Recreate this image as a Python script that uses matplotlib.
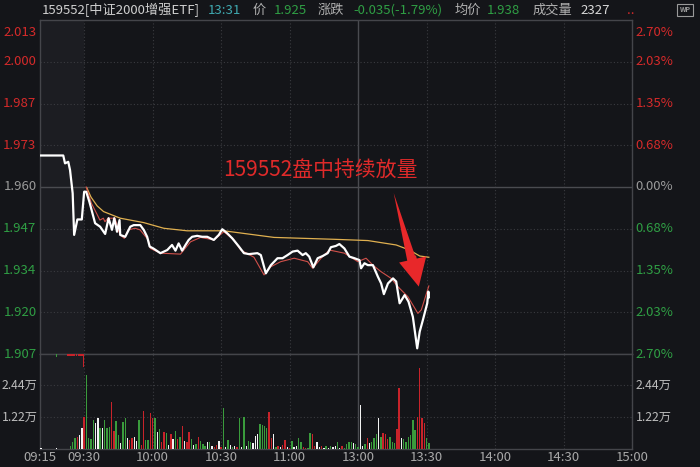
import numpy as np
import matplotlib
matplotlib.use("Agg")
from matplotlib import pyplot as plt

plt.rcParams['font.family'] = ['Noto Sans CJK SC', 'DejaVu Sans']

# ---- data ----
prev_close = 1.960
# call auction 09:15-09:30, minutes after 09:15
pre_t = [0.3, 7.9, 8.5, 9.6, 10.2, 11.1, 11.6, 12.7, 14.2]
pre_p = [1.970, 1.970, 1.9675, 1.968, 1.9654, 1.958, 1.9448, 1.9497, 1.9497]

# trading minutes after 09:30 (11:30 and 13:00 share minute 120)
px_m = [0, 0.9, 2.3, 4.8, 7.0, 9.2, 10.7, 12.2, 13.2, 14.4, 15.5, 15.8, 18.0, 20.2, 21.7,
        24.6, 26.1, 27.6, 28.7, 30.3, 33.4, 36.4, 38.5, 40.0, 41.4, 42.9, 44.4, 45.8,
        47.3, 49.5, 51.7, 53.9, 56.8, 59.0, 60.5, 62.7, 64.9, 67.8, 70.0, 72.2, 75.9,
        77.4, 79.6, 81.8, 84.7, 86.9, 89.1, 91.3, 93.5, 95.7, 97.1, 98.6, 100.4, 102.3,
        104.5, 106.7, 108.1, 110.3, 111.8, 114.0, 116.2, 118.4, 120.6, 121.3, 122.8,
        124.3, 126.5, 128.7, 130.1, 131.3, 133.1, 135.3, 136.7, 138.2, 140.4, 142.1,
        144.0, 145.9, 147.0, 148.4, 150.3, 150.8, 151.0]
price = [1.9585, 1.9585, 1.9553, 1.9485, 1.9474, 1.9451, 1.9501, 1.9464, 1.9501, 1.9458,
         1.9495, 1.9448, 1.9442, 1.9474, 1.9479, 1.9479, 1.9464, 1.9442, 1.9411, 1.9405,
         1.9390, 1.9400, 1.9416, 1.9398, 1.9421, 1.9398, 1.9416, 1.9432, 1.9442, 1.9445,
         1.9442, 1.9442, 1.9432, 1.9448, 1.9466, 1.9453, 1.9437, 1.9411, 1.9390, 1.9387,
         1.9390, 1.9384, 1.9326, 1.9352, 1.9374, 1.9374, 1.9384, 1.9395, 1.9398, 1.9384,
         1.9390, 1.9379, 1.9345, 1.9374, 1.9381, 1.9390, 1.9409, 1.9413, 1.9419, 1.9405,
         1.9379, 1.9374, 1.9368, 1.9342, 1.9358, 1.9352, 1.9352, 1.9315, 1.9294, 1.9260,
         1.9294, 1.9310, 1.9300, 1.9231, 1.9257, 1.9236, 1.9188, 1.9088, 1.9141, 1.9178,
         1.9231, 1.9268, 1.9250]

red_m = [0.9, 3.2, 5.4, 6.9, 8.4, 9.1, 10.5, 13.5, 15.7, 17.6, 19.3, 22.3, 24.5, 28.1, 29.0,
         33.4, 42.2, 46.6, 51.0, 56.8, 61.2, 65.6, 68.6, 74.4, 78.8, 81.8, 86.1, 92.0, 97.9,
         100.1, 103.8, 107.4, 114.0, 119.9, 123.5, 126.5, 130.1, 134.5, 137.4, 141.8,
         146.2, 147.7, 151.0]
red_p = [1.9600, 1.9548, 1.9517, 1.9495, 1.9501, 1.9490, 1.9501, 1.9501, 1.9448, 1.9437,
         1.9464, 1.9469, 1.9464, 1.9432, 1.9405, 1.9390, 1.9387, 1.9426, 1.9440, 1.9432,
         1.9458, 1.9432, 1.9400, 1.9377, 1.9321, 1.9347, 1.9363, 1.9374, 1.9363, 1.9342,
         1.9374, 1.9400, 1.9390, 1.9363, 1.9374, 1.9352, 1.9331, 1.9310, 1.9284, 1.9252,
         1.9199, 1.9210, 1.9286]

avg_m = [1.2, 3.0, 5.7, 8.5, 15.8, 26.1, 34.9, 45.1, 61.2, 83.2, 109.6, 124.3, 136.7, 142.5,
         147.0, 151.0]
avg_p = [1.9597, 1.9568, 1.9540, 1.9522, 1.9501, 1.9487, 1.9469, 1.9461, 1.9461, 1.9440,
         1.9434, 1.9430, 1.9416, 1.9400, 1.9381, 1.9377]

# volume in 万, one bar per minute; r = up, g = down, w = flat
vol_first = -6
vol = [0.13, 0.28, 0.43, 0.47, 0.53, 0.79, 1.23,
       2.82, 0.43, 0.38, 1.11, 0.98, 1.19, 0.79, 0.79, 1.11, 0.79, 0.85, 1.78, 0.69, 1.07,
       0.53, 0.22, 1.04, 1.19, 0.43, 0.34, 0.43, 0.47, 0.31, 1.11, 0.15, 1.45, 0.34, 0.34,
       1.36, 1.19, 1.19, 0.66, 0.76, 0.28, 0.64, 0.60, 0.15, 0.56, 0.38, 0.69, 0.38, 0.47,
       0.89, 0.31, 0.28, 0.66, 0.38, 0.15, 0.18, 0.47, 0.31, 0.18, 0.13, 0.25, 0.28, 0.13,
       0.09, 0.15, 0.31, 0.09, 1.55, 0.09, 0.34, 0.15, 0.09, 0.13, 0.09, 1.17, 0.09, 1.23,
       0.13, 0.31,
       0.28, 0.22, 0.51, 0.56, 0.94, 0.92, 0.89, 0.81, 1.42, 0.41, 0.56, 0.09, 0.13, 0.09,
       0.15, 0.34, 0.09, 0.05, 0.31, 0.09, 0.13, 0.43, 0.25, 0.09, 0.05, 0.03, 0.60, 0.56,
       0.13, 0.28, 0.09, 0.13, 0.05, 0.11, 0.05, 0.13, 0.09, 0.13, 0.25, 0.05, 0.13, 0.05,
       0.18, 0.25, 0.28, 0.22, 0.18, 0.09,
       1.68, 0.13, 0.18, 0.43, 0.22, 0.25, 0.41, 0.56, 1.19, 0.47, 0.62, 0.56, 0.38, 0.47,
       0.28, 0.22, 0.76, 2.34, 0.43, 0.38, 0.25, 0.47, 0.53, 1.11, 0.72, 1.23, 3.10, 1.17,
       0.98, 0.43, 0.22]
vol_col = ("gggrwwr"
           "ggggwwgwgggrrggwggwrrwwgrrggrrgwgrrgwrwgrgrwrrgwgrgggwgwrrwrgwgwgwrgwgwg"
           "gwwwggggrrwgrwrrwrgwwggrrggrrwwrwgwgwwgwrggggwg"
           "gwwgrwgggwgrrrgggrrwggggggrrrrg")
# auction small marks
auc_t = [0.3, 5.5]
auc_v = [0.05, 0.05]
hang_t = [5.5, 9.5, 10.2, 10.9, 11.6, 12.3, 13.0, 13.6, 14.3, 14.7]
hang_v = [0.10, 0.08, 0.08, 0.08, 0.08, 0.08, 0.08, 0.08, 0.08, 0.48]
hang_c = "grrrrrrrrr"

price_lbl = ["2.013", "2.000", "1.987", "1.973", "1.960", "1.947", "1.934", "1.920", "1.907"]
pct_lbl = ["2.70%", "2.03%", "1.35%", "0.68%", "0.00%", "0.68%", "1.35%", "2.03%", "2.70%"]
time_lbl = ["09:15", "09:30", "10:00", "10:30", "11:00", "13:00", "13:30", "14:00", "14:30", "15:00"]
time_pos = [None, 0, 30, 60, 90, 120, 150, 180, 210, 240]
vol_ticks = [1.22, 2.44]

# ---- style ----
BG = '#141519'
PRE_BG = '#1c1d22'
RED = '#d42a2a'
GREEN = '#2f9e44'
GRAY = '#9a9a9a'
GRID = '#3a3b40'
PRE_W = 19.34  # width of auction section in minute units
FS = 9.5
cmap = {'r': '#c8232a', 'g': '#3a9b3c', 'w': '#f2f2f2'}

def pre_x(t):
    return -PRE_W + np.asarray(t) * PRE_W / 15.0

fig = plt.figure(figsize=(7, 4.67), dpi=100, facecolor=BG)
ax = fig.add_axes([40 / 700, (467 - 354) / 467, 592 / 700, 334 / 467])
axv = fig.add_axes([40 / 700, 18 / 467, 592 / 700, 95 / 467], sharex=ax)

ylo, yhi = 1.907, 2.013
ax.set_ylim(ylo, yhi)
ax.set_xlim(-PRE_W, 240)
vtop = 3.62
axv.set_ylim(0, vtop)

for a in (ax, axv):
    a.set_facecolor(BG)
    a.axvspan(-PRE_W, 0, color=PRE_BG, zorder=0, lw=0)
    for s in a.spines.values():
        s.set_color('#44454a')
        s.set_linewidth(1)
    a.tick_params(length=0, labelleft=False, labelbottom=False)
    for tp in time_pos[1:]:
        if tp == 120:
            a.axvline(tp, color='#4a4b50', lw=1, zorder=1)
        else:
            a.axvline(tp, color=GRID, lw=0.8, ls=(0, (1, 2)), zorder=1)

yt = np.linspace(yhi, ylo, len(price_lbl))
for i, y in enumerate(yt):
    if i == 4:
        ax.axhline(y, color='#4a4b50', lw=1, zorder=1)
    elif 0 < i < len(yt) - 1:
        ax.axhline(y, color=GRID, lw=0.8, ls=(0, (1, 2)), zorder=1)
    c = RED if i < 4 else (GRAY if i == 4 else GREEN)
    va = 'top' if i == 0 else 'center'
    dy = -0.002 if i == 0 else 0
    ax.text(-0.006, y + dy, price_lbl[i], transform=ax.get_yaxis_transform(),
            ha='right', va=va, color=c, fontsize=FS)
    ax.text(1.006, y + dy, pct_lbl[i], transform=ax.get_yaxis_transform(),
            ha='left', va=va, color=c, fontsize=FS)

for v in vol_ticks:
    axv.axhline(v, color=GRID, lw=0.8, ls=(0, (1, 2)), zorder=1)
    lbl = f"{v:.2f}万"
    fig.text(2 / 700, axv.transData.transform((0, v))[1] / 467, lbl, ha='left', va='center',
             color='#bdbdbd', fontsize=8.8)
    axv.text(1.006, v, lbl, transform=axv.get_yaxis_transform(), ha='left', va='center',
             color='#bdbdbd', fontsize=8.8)

for lbl, tp in zip(time_lbl, time_pos):
    x = -PRE_W if tp is None else tp
    axv.text(x, -0.09, lbl, transform=axv.get_xaxis_transform(), ha='center', va='center',
             color='#a8a8a8', fontsize=FS)

# price lines
ax.plot(avg_m, avg_p, color='#e0b050', lw=0.9, zorder=3)
ax.plot(red_m, red_p, color='#d0504a', lw=0.8, zorder=3)
wx = np.concatenate([pre_x(pre_t), px_m])
wy = np.concatenate([pre_p, price])
ax.plot(wx, wy, color='white', lw=1.6, zorder=4)

# volume bars
vx = np.arange(vol_first, vol_first + len(vol))
axv.bar(vx, vol, width=0.6, color=[cmap[c] for c in vol_col], zorder=3, lw=0)
axv.bar(pre_x(auc_t), auc_v, width=0.6, color='white', zorder=3, lw=0)
axv.bar(pre_x(hang_t), [-h for h in hang_v], bottom=vtop, width=0.6,
        color=[cmap[c] for c in hang_c], zorder=3, lw=0)

# annotation
ax.text(103.7, 1.9651, "159552盘中持续放量", color='#e02a2a', fontsize=15,
        ha='center', va='center', zorder=5)
tail = (135.6, 1.9581)
neck = (144.1, 1.9352)
tip = (146.6, 1.9284)
ax.annotate("", xy=tail, xytext=neck,
            arrowprops=dict(arrowstyle='wedge,tail_width=0.35,shrink_factor=0.5',
                            color='#e8282a', lw=0, mutation_scale=20, shrinkA=0, shrinkB=0),
            zorder=5)
ax.annotate("", xy=tip, xytext=(143.6, 1.9380),
            arrowprops=dict(arrowstyle='simple,head_length=1.0,head_width=1.0,tail_width=0.3',
                            color='#e8282a', lw=0, mutation_scale=20, shrinkA=0, shrinkB=0),
            zorder=5)

# header
hdr = [(42, "159552[中证2000增强ETF]", '#cfcfcf'), (208, "13:31", '#3fa9b0'),
       (253, "价", '#b0b0b0'), (274, "1.925", GREEN), (318, "涨跌", '#b0b0b0'),
       (353, "-0.035(-1.79%)", GREEN), (455, "均价", '#b0b0b0'), (487, "1.938", GREEN),
       (533, "成交量", '#b0b0b0'), (580, "2327", '#d8d8d8'), (627, "..", RED)]
for x, s, c in hdr:
    fig.text(x / 700, 1 - 10 / 467, s, color=c, fontsize=FS, ha='left', va='center')
fig.text(685 / 700, 1 - 10 / 467, "WP", color='#9a9a9a', fontsize=5, ha='center', va='center',
         fontweight='bold', bbox=dict(boxstyle='square,pad=0.3', fc=BG, ec='#9a9a9a', lw=0.8))

fig.savefig("out.png", dpi=100, facecolor=BG)
